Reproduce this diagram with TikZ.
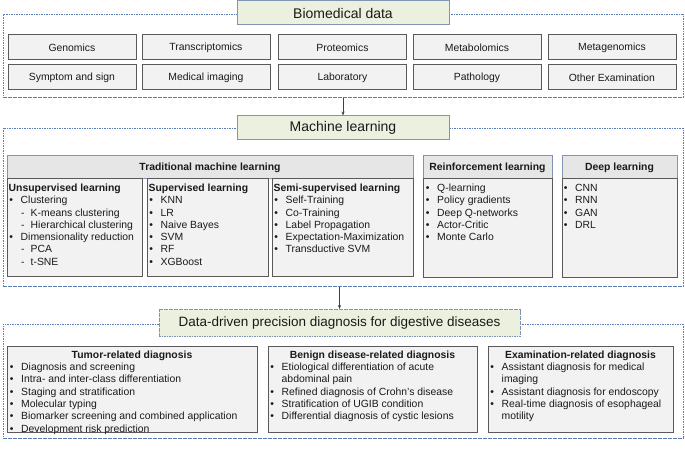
\documentclass[tikz,border=0pt]{standalone}
\usepackage{fontspec}
\setmainfont{Liberation Sans}
\usetikzlibrary{arrows.meta}
\definecolor{titlefill}{HTML}{EBF1DE}
\definecolor{titleedge}{HTML}{7F95B3}
\definecolor{frameblue}{HTML}{5B7DB5}
\definecolor{boxfill}{HTML}{F2F2F2}
\definecolor{boxedge}{HTML}{595959}
\definecolor{headfill}{HTML}{E6E6E6}
\definecolor{arrowgray}{HTML}{404040}
\definecolor{textcol}{HTML}{1A1A1A}
\newcommand\bitem[1]{\makebox[12pt][l]{\hspace*{0.6pt}•}#1}
\newcommand\sitem[1]{\hspace*{12.5pt}\makebox[9.5pt][l]{-}#1}
\newcommand\citem[1]{\hspace*{12pt}#1}
\begin{document}
\begin{tikzpicture}[x=1pt,y=-1pt,
  every node/.style={text=textcol},
  framebox/.style={draw=frameblue, line width=0.8pt, dash pattern=on 1.6pt off 0.9pt, anchor=north west, inner sep=0pt},
  titlebox/.style={draw=titleedge, fill=titlefill, line width=1pt, inner sep=0pt, font=\fontsize{14}{16}\selectfont},
  databox/.style={draw=boxedge, fill=boxfill, line width=0.9pt, inner sep=0pt, anchor=north west, minimum width=128pt, minimum height=25pt, font=\fontsize{10.4}{12.3}\selectfont},
  headbox/.style={draw=titleedge, fill=headfill, line width=0.9pt, inner sep=0pt, anchor=north west, minimum height=23pt},
  bodybox/.style={draw=boxedge, fill=boxfill, line width=0.9pt, inner sep=0pt, anchor=north west},
  listtext/.style={anchor=base west, inner sep=0pt, font=\fontsize{10.4}{12.3}\selectfont},
  titletext/.style={anchor=base, inner sep=0pt, font=\fontsize{10.4}{12.3}\selectfont\bfseries},
  arrowline/.style={draw=arrowgray, line width=0.7pt, -{Stealth[length=4pt,width=3.2pt]}}
]
\useasboundingbox (0,0) rectangle (685,449);

% frames
\node[framebox, minimum width=680pt, minimum height=82.5pt] (frame1) at (2.5,14.5) {};
\node[framebox, minimum width=680pt, minimum height=158pt] (frame2) at (2.5,128) {};
\node[framebox, minimum width=680pt, minimum height=113.5pt] (frame3) at (2.5,324) {};

% titles
\node[titlebox, minimum width=212pt, minimum height=24pt] (t1) at (343,13) {Biomedical data};
\node[titlebox, minimum width=212pt, minimum height=24pt] (t2) at (343,128) {Machine learning};
\node[titlebox, dash pattern=on 1.6pt off 0.9pt, minimum width=361pt, minimum height=27pt, font=\fontsize{13.5}{16}\selectfont] (t3) at (339.5,323) {Data-driven precision diagnosis for digestive diseases};

% arrows
\draw[arrowline] (frame1.south -| t2.north) -- (t2.north);
\draw[arrowline] (frame2.south -| t3.north) -- (t3.north);

% data boxes
\node[databox] (genomics) at (7.5,34.5) {Genomics};
\node[databox] (transcriptomics) at (141.5,34.5) {Transcriptomics};
\node[databox] (proteomics) at (278,34.5) {Proteomics};
\node[databox] (metabolomics) at (412.5,34.5) {Metabolomics};
\node[databox] (metagenomics) at (547.5,34.5) {Metagenomics};
\node[databox] (symptom) at (7.5,64.5) {Symptom and sign};
\node[databox] (imaging) at (141.5,64.5) {Medical imaging};
\node[databox] (laboratory) at (278,64.5) {Laboratory};
\node[databox] (pathology) at (412.5,64.5) {Pathology};
\node[databox] (otherexam) at (547.5,64.5) {Other Examination};

% ML boxes
\node[headbox, minimum width=406pt] (tradhead) at (7,155) {};
\node[titletext] (tradtitle) at (210,170.2) {Traditional machine learning};
\node[bodybox, minimum width=135pt, minimum height=98pt] (unsup) at (7,178) {};
\node[bodybox, minimum width=121pt, minimum height=98pt] (sup) at (147,178) {};
\node[bodybox, minimum width=141pt, minimum height=98pt] (semi) at (272,178) {};
\node[headbox, minimum width=129pt] (reinfhead) at (423,155) {};
\node[titletext] (reinftitle) at (487.5,170.2) {Reinforcement learning};
\node[bodybox, minimum width=129pt, minimum height=99pt] (reinf) at (423,178) {};
\node[headbox, minimum width=115pt] (deephead) at (562,155) {};
\node[titletext] (deeptitle) at (619.5,170.2) {Deep learning};
\node[bodybox, minimum width=115pt, minimum height=99pt] (deep) at (562,178) {};

\node[listtext] (unsuplist) at (8.5,191.5) {\begin{tabular}[t]{@{}l@{}}\textbf{Unsupervised learning}\\
\bitem{Clustering}\\ \sitem{K-means clustering}\\ \sitem{Hierarchical clustering}\\
\bitem{Dimensionality reduction}\\ \sitem{PCA}\\ \sitem{t-SNE}\end{tabular}};
\node[listtext] (suplist) at (148.5,191.5) {\begin{tabular}[t]{@{}l@{}}\textbf{Supervised learning}\\
\bitem{KNN}\\ \bitem{LR}\\ \bitem{Naive Bayes}\\ \bitem{SVM}\\ \bitem{RF}\\ \bitem{XGBoost}\end{tabular}};
\node[listtext] (semilist) at (273.5,191.5) {\begin{tabular}[t]{@{}l@{}}\textbf{Semi-supervised learning}\\
\bitem{Self-Training}\\ \bitem{Co-Training}\\ \bitem{Label Propagation}\\ \bitem{Expectation-Maximization}\\ \bitem{Transductive SVM}\end{tabular}};
\node[listtext] (reinflist) at (425,191.5) {\begin{tabular}[t]{@{}l@{}}\bitem{Q-learning}\\ \bitem{Policy gradients}\\ \bitem{Deep Q-networks}\\ \bitem{Actor-Critic}\\ \bitem{Monte Carlo}\end{tabular}};
\node[listtext] (deeplist) at (563,191.5) {\begin{tabular}[t]{@{}l@{}}\bitem{CNN}\\ \bitem{RNN}\\ \bitem{GAN}\\ \bitem{DRL}\end{tabular}};

% diagnosis boxes
\node[bodybox, minimum width=250pt, minimum height=86pt] (tumor) at (7,346) {};
\node[bodybox, minimum width=209pt, minimum height=86pt] (benign) at (268,346) {};
\node[bodybox, minimum width=185pt, minimum height=86pt] (exam) at (488,346) {};
\node[titletext] (tumortitle) at (132,358.5) {Tumor-related diagnosis};
\node[titletext] (benigntitle) at (372.5,358.5) {Benign disease-related diagnosis};
\node[titletext] (examtitle) at (580.5,358.5) {Examination-related diagnosis};
\node[listtext] (tumorlist) at (9,370.6) {\begin{tabular}[t]{@{}l@{}}\bitem{Diagnosis and screening}\\ \bitem{Intra- and inter-class differentiation}\\ \bitem{Staging and stratification}\\ \bitem{Molecular typing}\\ \bitem{Biomarker screening and combined application}\\ \bitem{Development risk prediction}\end{tabular}};
\node[listtext] (benignlist) at (269.5,370.6) {\begin{tabular}[t]{@{}l@{}}\bitem{Etiological differentiation of acute}\\ \citem{abdominal pain}\\ \bitem{Refined diagnosis of Crohn's disease}\\ \bitem{Stratification of UGIB condition}\\ \bitem{Differential diagnosis of cystic lesions}\end{tabular}};
\node[listtext] (examlist) at (489.5,370.6) {\begin{tabular}[t]{@{}l@{}}\bitem{Assistant diagnosis for medical}\\ \citem{imaging}\\ \bitem{Assistant diagnosis for endoscopy}\\ \bitem{Real-time diagnosis of esophageal}\\ \citem{motility}\end{tabular}};
\end{tikzpicture}
\end{document}
